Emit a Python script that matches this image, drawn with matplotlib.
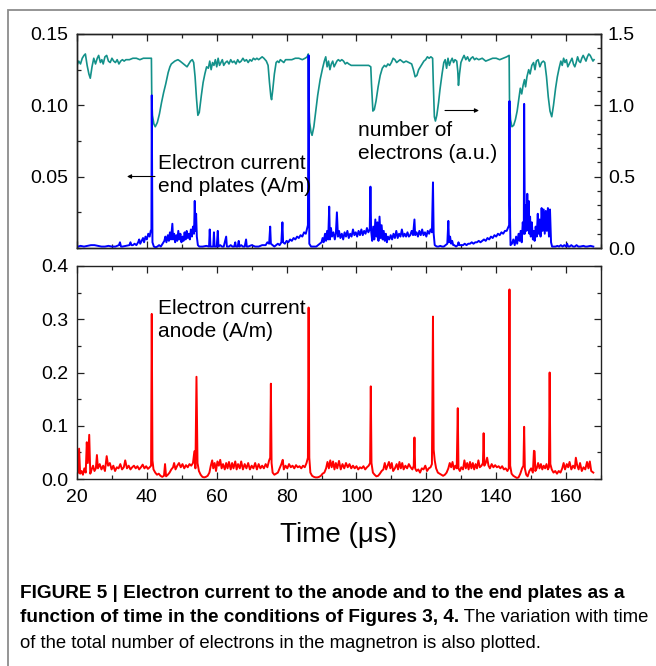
import numpy as np
import matplotlib
matplotlib.use("Agg")
import matplotlib.pyplot as plt
from matplotlib.ticker import MultipleLocator, FixedLocator
from matplotlib.patches import Rectangle

plt.rcParams["font.family"] = ["Liberation Sans", "DejaVu Sans"]

# electron current to the end plates (A/m): (time in us, current)
end_plates = np.array([
    (20.3, 0.001), (21, 0.0015), (22, 0.001), (23, 0.0015), (24, 0.002), (25, 0.002), (26, 0.0015),
    (27, 0.001), (28, 0.001), (29, 0.0015), (30, 0.001), (31, 0.001), (32, 0.002), (32.3, 0.004),
    (32.6, 0.001), (33, 0.001), (34, 0.0015), (35, 0.002), (35.3, 0.004), (35.6, 0.002), (36, 0.002),
    (36.5, 0.003), (37, 0.002), (37.5, 0.004), (37.8, 0.006), (38.1, 0.003), (38.5, 0.005), (38.9, 0.007),
    (39.2, 0.004), (39.6, 0.008), (40.0, 0.006), (40.4, 0.010), (40.8, 0.008), (41.1, 0.012), (41.3, 0.013),
    (41.4, 0.107), (41.5, 0.060), (41.6, 0.004), (42, 0.001), (42.5, 0.0005), (43, 0.001), (43.5, 0.002),
    (44, 0.001), (44.5, 0.003), (45, 0.005), (45.3, 0.008), (45.6, 0.004), (46, 0.009), (46.3, 0.005),
    (46.6, 0.011), (46.9, 0.006), (47.3, 0.017), (47.5, 0.006), (47.8, 0.010), (48.1, 0.004), (48.4, 0.009),
    (48.7, 0.005), (49.0, 0.012), (49.3, 0.006), (49.6, 0.010), (49.9, 0.004), (50.2, 0.008), (50.5, 0.005),
    (50.8, 0.011), (51.1, 0.006), (51.4, 0.012), (51.7, 0.007), (52.0, 0.010), (52.3, 0.006), (52.6, 0.013),
    (52.9, 0.008), (53.2, 0.015), (53.5, 0.010), (53.7, 0.033), (53.9, 0.012), (54.1, 0.024), (54.3, 0.008),
    (54.6, 0.002), (55, 0.001), (55.5, 0.001), (56, 0.001), (57, 0.0015), (57.8, 0.001), (58.0, 0.013),
    (58.2, 0.001), (59.0, 0.001), (59.2, 0.011), (59.4, 0.001), (60.0, 0.001), (60.3, 0.012), (60.5, 0.001),
    (61, 0.002), (61.5, 0.001), (62, 0.001), (62.7, 0.008), (62.9, 0.001), (63.5, 0.001), (64, 0.002),
    (64.5, 0.001), (65, 0.001), (65.3, 0.004), (65.5, 0.001), (66, 0.001), (66.3, 0.005), (66.5, 0.001),
    (67, 0.002), (67.5, 0.001), (68, 0.001), (68.4, 0.006), (68.6, 0.001), (69, 0.001), (70, 0.002),
    (71, 0.001), (72, 0.001), (73, 0.002), (74, 0.002), (74.5, 0.004), (75.0, 0.003), (75.3, 0.015),
    (75.5, 0.003), (76, 0.002), (76.5, 0.001), (77, 0.002), (77.5, 0.003), (78, 0.002), (78.5, 0.004),
    (78.8, 0.018), (79.0, 0.004), (79.5, 0.003), (80, 0.005), (80.5, 0.004), (81, 0.006), (81.5, 0.005),
    (82, 0.007), (82.5, 0.006), (83, 0.008), (83.5, 0.007), (84, 0.009), (84.5, 0.008), (85, 0.011),
    (85.5, 0.010), (85.9, 0.014), (86.1, 0.016), (86.3, 0.135), (86.4, 0.060), (86.5, 0.003), (87, 0.001),
    (87.5, 0.001), (88, 0.001), (88.5, 0.001), (89, 0.002), (89.5, 0.003), (90, 0.004), (90.3, 0.007),
    (90.6, 0.004), (91, 0.010), (91.3, 0.005), (91.6, 0.012), (91.9, 0.006), (92.2, 0.029), (92.4, 0.006),
    (92.7, 0.014), (93.0, 0.008), (93.4, 0.011), (93.8, 0.006), (94.1, 0.010), (94.4, 0.025), (94.7, 0.008),
    (95.0, 0.012), (95.4, 0.007), (95.8, 0.010), (96.2, 0.006), (96.6, 0.011), (97.0, 0.008), (97.4, 0.012),
    (97.8, 0.007), (98.2, 0.010), (98.6, 0.008), (99.0, 0.013), (99.4, 0.009), (99.8, 0.011), (100.2, 0.008),
    (100.6, 0.012), (101.0, 0.009), (101.4, 0.013), (101.8, 0.009), (102.2, 0.012), (102.6, 0.010),
    (103.0, 0.014), (103.4, 0.011), (103.8, 0.013), (104.0, 0.043), (104.2, 0.012), (104.5, 0.005),
    (104.8, 0.015), (105.1, 0.006), (105.4, 0.020), (105.7, 0.008), (106.0, 0.018), (106.3, 0.005),
    (106.6, 0.022), (106.9, 0.007), (107.2, 0.016), (107.5, 0.006), (107.8, 0.012), (108.1, 0.005),
    (108.4, 0.010), (108.7, 0.004), (109.0, 0.008), (109.4, 0.006), (109.8, 0.009), (110.2, 0.006),
    (110.6, 0.010), (111.0, 0.007), (111.4, 0.012), (111.8, 0.007), (112.2, 0.010), (112.6, 0.008),
    (113.0, 0.013), (113.4, 0.008), (113.8, 0.010), (114.2, 0.008), (114.6, 0.011), (115.0, 0.008),
    (115.4, 0.009), (115.8, 0.012), (116.2, 0.009), (116.6, 0.020), (116.8, 0.009), (117.2, 0.011),
    (117.6, 0.008), (118.0, 0.012), (118.4, 0.009), (118.8, 0.013), (119.2, 0.009), (119.6, 0.011),
    (120.0, 0.008), (120.4, 0.012), (120.8, 0.010), (121.2, 0.013), (121.6, 0.011), (121.9, 0.046),
    (122.1, 0.010), (122.4, 0.002), (123, 0.001), (123.5, 0.001), (124, 0.0015), (124.5, 0.001), (125, 0.001),
    (125.5, 0.002), (126.0, 0.003), (126.3, 0.019), (126.5, 0.004), (126.8, 0.008), (127.1, 0.003),
    (127.4, 0.005), (127.7, 0.002), (128, 0.002), (128.5, 0.001), (129, 0.002), (129.2, 0.004), (129.5, 0.002),
    (130, 0.002), (130.5, 0.002), (131, 0.003), (131.5, 0.002), (132, 0.003), (132.5, 0.003), (133, 0.004),
    (133.5, 0.003), (134, 0.004), (134.5, 0.004), (135, 0.005), (135.5, 0.004), (136, 0.005), (136.5, 0.006),
    (137, 0.005), (137.5, 0.007), (138, 0.006), (138.5, 0.008), (139, 0.007), (139.5, 0.009), (140, 0.008),
    (140.5, 0.010), (141, 0.009), (141.5, 0.011), (142, 0.010), (142.5, 0.012), (143, 0.012), (143.5, 0.015),
    (143.7, 0.016), (143.8, 0.103), (143.9, 0.030), (144.1, 0.002), (144.5, 0.003), (144.9, 0.006),
    (145.3, 0.002), (145.7, 0.008), (146.0, 0.003), (146.4, 0.010), (146.7, 0.005), (147.0, 0.012),
    (147.3, 0.004), (147.6, 0.018), (147.9, 0.010), (148.0, 0.101), (148.2, 0.010), (148.5, 0.030),
    (148.7, 0.012), (148.9, 0.038), (149.1, 0.015), (149.3, 0.033), (149.5, 0.010), (149.7, 0.022),
    (149.9, 0.008), (150.2, 0.018), (150.5, 0.006), (150.8, 0.012), (151.0, 0.005), (151.3, 0.015),
    (151.6, 0.008), (151.9, 0.024), (152.1, 0.010), (152.4, 0.020), (152.7, 0.008), (153.0, 0.028),
    (153.3, 0.012), (153.6, 0.027), (153.9, 0.010), (154.2, 0.026), (154.5, 0.012), (154.8, 0.028),
    (155.1, 0.008), (155.4, 0.027), (155.7, 0.004), (156.0, 0.001), (156.5, 0.001), (157, 0.001),
    (157.5, 0.0015), (158, 0.001), (158.5, 0.002), (159, 0.001), (159.5, 0.002), (160, 0.001), (160.3, 0.003),
    (160.6, 0.001), (161, 0.001), (161.5, 0.002), (162, 0.001), (162.5, 0.001), (163, 0.002), (163.5, 0.001),
    (164, 0.001), (165, 0.0015), (165.5, 0.001), (166, 0.001), (167, 0.0015), (167.8, 0.001),
])

# total number of electrons (a.u.): (time in us, value)
n_electrons = np.array([
    (20.0, 1.28), (20.5, 1.31), (21.0, 1.29), (21.5, 1.33), (22.0, 1.35), (22.4, 1.36), (22.9, 1.28),
    (23.4, 1.22), (23.8, 1.19), (24.3, 1.27), (24.8, 1.33), (25.3, 1.29), (25.8, 1.33), (26.2, 1.35),
    (26.7, 1.30), (27.1, 1.32), (27.5, 1.29), (28.0, 1.34), (28.5, 1.35), (29.0, 1.31), (29.5, 1.30),
    (30.0, 1.33), (30.5, 1.31), (31.0, 1.30), (31.5, 1.32), (32.0, 1.29), (32.5, 1.31), (33.0, 1.32),
    (33.5, 1.31), (34.0, 1.32), (35.0, 1.32), (36.0, 1.33), (37.0, 1.33), (38.0, 1.32), (39.0, 1.33),
    (40.0, 1.33), (41.3, 1.33), (41.4, 1.05), (41.6, 0.93), (42.0, 0.87), (42.4, 0.85), (43.0, 0.88),
    (43.6, 0.94), (44.2, 1.02), (44.8, 1.09), (45.4, 1.15), (46.1, 1.23), (46.6, 1.27), (47.0, 1.29),
    (47.5, 1.30), (48.0, 1.31), (48.9, 1.32), (49.5, 1.31), (50.0, 1.30), (50.5, 1.29), (51.0, 1.28),
    (51.5, 1.27), (52.0, 1.29), (52.5, 1.31), (53.0, 1.32), (53.4, 1.30), (53.8, 1.20), (54.2, 1.05),
    (54.6, 0.93), (55.0, 0.95), (55.6, 1.07), (56.1, 1.16), (56.6, 1.22), (57.1, 1.27), (57.6, 1.26),
    (58.0, 1.31), (58.4, 1.25), (58.8, 1.30), (59.2, 1.28), (59.6, 1.32), (60.0, 1.27), (60.4, 1.33),
    (60.8, 1.28), (61.2, 1.30), (61.6, 1.32), (62.0, 1.28), (62.5, 1.30), (63.0, 1.31), (63.5, 1.29),
    (64.0, 1.32), (64.5, 1.30), (65.0, 1.31), (65.5, 1.29), (66.0, 1.32), (66.5, 1.30), (67.0, 1.31),
    (67.5, 1.33), (68.0, 1.31), (68.5, 1.32), (69.0, 1.30), (69.5, 1.32), (70.0, 1.31), (70.5, 1.33),
    (71.0, 1.32), (71.5, 1.33), (72.0, 1.32), (72.5, 1.33), (73.0, 1.34), (73.5, 1.33), (74.2, 1.31),
    (74.7, 1.28), (75.1, 1.16), (75.5, 1.06), (75.7, 1.04), (76.0, 1.10), (76.5, 1.22), (77.0, 1.30),
    (77.4, 1.31), (77.8, 1.30), (78.2, 1.32), (78.7, 1.31), (79.2, 1.30), (79.7, 1.32), (80.5, 1.32),
    (81.5, 1.32), (82.5, 1.33), (83.5, 1.33), (84.5, 1.32), (85.3, 1.33), (85.9, 1.34), (86.2, 1.36),
    (86.3, 1.05), (86.6, 0.88), (87.0, 0.81), (87.3, 0.79), (87.8, 0.85), (88.3, 0.95), (88.9, 1.07),
    (89.6, 1.18), (90.3, 1.26), (90.8, 1.31), (91.2, 1.34), (91.6, 1.27), (92.0, 1.31), (92.4, 1.25),
    (92.8, 1.29), (93.2, 1.31), (93.6, 1.27), (94.0, 1.29), (94.4, 1.31), (94.8, 1.32), (95.3, 1.31),
    (95.8, 1.32), (96.3, 1.31), (96.8, 1.29), (97.3, 1.30), (97.8, 1.29), (98.5, 1.28), (99.5, 1.28),
    (100.5, 1.28), (101.5, 1.28), (102.5, 1.28), (103.5, 1.28), (104.1, 1.27), (104.3, 1.15), (104.7, 0.96),
    (105.1, 0.97), (105.6, 1.03), (106.2, 1.13), (106.8, 1.21), (107.4, 1.26), (108.0, 1.28), (108.5, 1.27),
    (109.0, 1.29), (109.5, 1.28), (110.0, 1.30), (110.5, 1.33), (111.0, 1.32), (111.5, 1.30), (112.0, 1.31),
    (112.5, 1.32), (113.0, 1.31), (113.5, 1.30), (114.2, 1.31), (115.0, 1.30), (115.8, 1.29), (116.3, 1.25),
    (116.8, 1.20), (117.3, 1.21), (117.8, 1.25), (118.3, 1.27), (118.8, 1.29), (119.3, 1.31), (119.8, 1.32),
    (120.3, 1.34), (120.8, 1.33), (121.3, 1.34), (121.8, 1.33), (122.0, 1.15), (122.3, 0.92), (122.6, 0.89),
    (123.0, 0.93), (123.5, 1.02), (123.9, 1.11), (124.5, 1.22), (125.0, 1.30), (125.4, 1.32), (125.8, 1.26),
    (126.2, 1.33), (126.6, 1.28), (127.0, 1.31), (127.4, 1.33), (127.8, 1.30), (128.2, 1.32), (128.7, 1.31),
    (129.0, 1.24), (129.2, 1.14), (129.5, 1.22), (129.9, 1.30), (130.4, 1.33), (130.8, 1.35), (131.3, 1.32),
    (131.8, 1.34), (132.3, 1.31), (132.8, 1.33), (133.3, 1.34), (133.8, 1.32), (134.3, 1.33), (135.0, 1.32),
    (136.0, 1.33), (137.0, 1.31), (138.0, 1.32), (139.0, 1.33), (140.0, 1.33), (141.0, 1.32), (142.0, 1.33),
    (143.0, 1.34), (143.7, 1.35), (143.8, 1.05), (144.1, 0.90), (144.5, 0.85), (145.0, 0.86), (145.5, 0.90),
    (146.0, 0.96), (146.5, 1.05), (146.9, 1.12), (147.3, 1.08), (147.7, 1.14), (148.1, 1.18), (148.4, 1.13),
    (148.8, 1.20), (149.3, 1.25), (149.7, 1.22), (150.2, 1.28), (150.7, 1.30), (151.1, 1.25), (151.5, 1.31),
    (152.0, 1.32), (152.5, 1.27), (153.0, 1.30), (153.5, 1.31), (153.9, 1.30), (154.4, 1.20), (154.9, 1.06),
    (155.4, 0.96), (155.9, 0.92), (156.4, 1.00), (157.0, 1.12), (157.5, 1.20), (158.0, 1.26), (158.5, 1.31),
    (158.9, 1.28), (159.3, 1.33), (159.7, 1.30), (160.1, 1.32), (160.5, 1.27), (160.9, 1.29), (161.3, 1.31),
    (161.7, 1.33), (162.1, 1.29), (162.5, 1.27), (162.9, 1.30), (163.3, 1.34), (163.7, 1.31), (164.1, 1.30),
    (164.5, 1.33), (164.9, 1.35), (165.3, 1.33), (165.7, 1.31), (166.1, 1.34), (166.5, 1.36), (166.9, 1.35),
    (167.3, 1.33), (167.7, 1.31), (168.0, 1.32),
])

# electron current to the anode (A/m): (time in us, current)
anode = np.array([
    (20.3, 0.012), (20.6, 0.057), (20.9, 0.010), (21.3, 0.015), (21.7, 0.008), (22.1, 0.020), (22.5, 0.012),
    (22.8, 0.069), (23.1, 0.030), (23.5, 0.083), (23.8, 0.010), (24.2, 0.018), (24.6, 0.025), (25.0, 0.015),
    (25.4, 0.020), (25.7, 0.045), (26.0, 0.020), (26.5, 0.028), (27.0, 0.018), (27.5, 0.025), (28.0, 0.015),
    (28.5, 0.043), (28.9, 0.025), (29.4, 0.030), (29.9, 0.018), (30.4, 0.025), (30.9, 0.015), (31.4, 0.022),
    (31.9, 0.020), (32.4, 0.028), (32.9, 0.018), (33.4, 0.022), (33.8, 0.035), (34.3, 0.020), (34.8, 0.025),
    (35.3, 0.018), (35.8, 0.022), (36.3, 0.025), (36.8, 0.020), (37.3, 0.024), (37.8, 0.018), (38.3, 0.022),
    (38.8, 0.027), (39.3, 0.020), (39.8, 0.024), (40.3, 0.019), (40.8, 0.022), (41.2, 0.025), (41.4, 0.310),
    (41.6, 0.035), (41.9, 0.018), (42.4, 0.012), (42.9, 0.008), (43.4, 0.010), (43.9, 0.006), (44.4, 0.004),
    (44.9, 0.006), (45.2, 0.028), (45.5, 0.005), (46.0, 0.008), (46.5, 0.012), (47.0, 0.018), (47.5, 0.022),
    (47.8, 0.030), (48.2, 0.018), (48.7, 0.025), (49.2, 0.030), (49.7, 0.022), (50.2, 0.028), (50.7, 0.020),
    (51.2, 0.026), (51.7, 0.022), (52.2, 0.028), (52.7, 0.025), (53.2, 0.030), (53.6, 0.052), (53.9, 0.020),
    (54.2, 0.192), (54.5, 0.030), (54.9, 0.015), (55.4, 0.008), (55.9, 0.004), (56.4, 0.003), (56.9, 0.004),
    (57.4, 0.006), (57.9, 0.012), (58.3, 0.025), (58.7, 0.035), (59.0, 0.020), (59.4, 0.030), (59.8, 0.015),
    (60.2, 0.033), (60.6, 0.025), (61.0, 0.036), (61.4, 0.020), (61.8, 0.028), (62.3, 0.018), (62.7, 0.030),
    (63.1, 0.020), (63.5, 0.032), (64.0, 0.018), (64.4, 0.030), (64.8, 0.020), (65.3, 0.033), (65.7, 0.018),
    (66.1, 0.028), (66.6, 0.020), (67.0, 0.033), (67.5, 0.018), (68.0, 0.028), (68.5, 0.020), (69.0, 0.030),
    (69.5, 0.018), (70.0, 0.025), (70.5, 0.020), (71.0, 0.030), (71.5, 0.018), (72.0, 0.028), (72.5, 0.020),
    (73.0, 0.025), (73.5, 0.020), (74.0, 0.028), (74.5, 0.022), (75.0, 0.035), (75.3, 0.040), (75.5, 0.179),
    (75.7, 0.030), (76.0, 0.012), (76.5, 0.008), (77.0, 0.010), (77.5, 0.012), (78.0, 0.020), (78.5, 0.028),
    (78.9, 0.036), (79.2, 0.018), (79.7, 0.025), (80.2, 0.020), (80.7, 0.028), (81.2, 0.022), (81.7, 0.025),
    (82.2, 0.020), (82.7, 0.026), (83.2, 0.022), (83.7, 0.024), (84.2, 0.020), (84.7, 0.025), (85.2, 0.022),
    (85.7, 0.030), (86.1, 0.040), (86.3, 0.322), (86.5, 0.040), (86.8, 0.012), (87.3, 0.006), (87.8, 0.004),
    (88.3, 0.003), (88.8, 0.003), (89.3, 0.004), (89.8, 0.006), (90.3, 0.010), (90.8, 0.012), (91.3, 0.020),
    (91.7, 0.032), (92.1, 0.020), (92.5, 0.035), (92.9, 0.022), (93.3, 0.033), (93.7, 0.018), (94.1, 0.030),
    (94.5, 0.020), (95.0, 0.034), (95.5, 0.018), (96.0, 0.028), (96.5, 0.020), (97.0, 0.030), (97.5, 0.022),
    (98.0, 0.028), (98.5, 0.020), (99.0, 0.025), (99.5, 0.020), (100.0, 0.024), (100.5, 0.018), (101.0, 0.022),
    (101.5, 0.020), (102.0, 0.024), (102.5, 0.018), (103.0, 0.022), (103.5, 0.025), (103.9, 0.030),
    (104.1, 0.174), (104.3, 0.030), (104.7, 0.012), (105.2, 0.008), (105.7, 0.005), (106.2, 0.006),
    (106.7, 0.010), (107.2, 0.015), (107.7, 0.018), (108.1, 0.030), (108.5, 0.018), (108.9, 0.025),
    (109.3, 0.032), (109.7, 0.020), (110.1, 0.030), (110.5, 0.015), (111.0, 0.020), (111.5, 0.028),
    (111.9, 0.018), (112.3, 0.032), (112.7, 0.020), (113.1, 0.030), (113.5, 0.018), (114.0, 0.025),
    (114.5, 0.020), (115.0, 0.028), (115.5, 0.022), (116.0, 0.018), (116.4, 0.025), (116.6, 0.078),
    (116.8, 0.020), (117.2, 0.015), (117.7, 0.018), (118.2, 0.012), (118.7, 0.020), (119.2, 0.018),
    (119.7, 0.025), (120.2, 0.015), (120.7, 0.020), (121.2, 0.022), (121.6, 0.028), (121.9, 0.305),
    (122.1, 0.055), (122.4, 0.035), (122.8, 0.020), (123.3, 0.012), (123.8, 0.010), (124.3, 0.008),
    (124.8, 0.006), (125.3, 0.008), (125.8, 0.012), (126.3, 0.020), (126.7, 0.030), (127.1, 0.022),
    (127.5, 0.032), (127.9, 0.018), (128.3, 0.025), (128.7, 0.020), (129.0, 0.133), (129.2, 0.020),
    (129.6, 0.015), (130.0, 0.022), (130.5, 0.018), (130.9, 0.035), (131.3, 0.020), (131.7, 0.030),
    (132.1, 0.018), (132.5, 0.032), (132.9, 0.020), (133.3, 0.030), (133.7, 0.018), (134.1, 0.028),
    (134.5, 0.020), (134.9, 0.035), (135.3, 0.022), (135.8, 0.025), (136.2, 0.030), (136.4, 0.086),
    (136.6, 0.025), (137.0, 0.030), (137.4, 0.040), (137.8, 0.025), (138.2, 0.020), (138.7, 0.028),
    (139.2, 0.022), (139.7, 0.026), (140.2, 0.022), (140.7, 0.024), (141.2, 0.020), (141.7, 0.024),
    (142.2, 0.018), (142.7, 0.020), (143.2, 0.015), (143.6, 0.020), (143.8, 0.356), (144.0, 0.025),
    (144.4, 0.010), (144.9, 0.006), (145.4, 0.004), (145.9, 0.002), (146.4, 0.003), (146.9, 0.010),
    (147.4, 0.020), (147.8, 0.025), (148.0, 0.098), (148.2, 0.020), (148.6, 0.008), (149.0, 0.005),
    (149.5, 0.015), (150.0, 0.020), (150.5, 0.012), (150.8, 0.053), (151.0, 0.052), (151.2, 0.015),
    (151.6, 0.020), (152.0, 0.030), (152.4, 0.020), (152.8, 0.028), (153.2, 0.018), (153.6, 0.025),
    (154.0, 0.020), (154.4, 0.028), (154.8, 0.018), (155.1, 0.022), (155.3, 0.200), (155.5, 0.028),
    (155.9, 0.018), (156.4, 0.012), (156.9, 0.015), (157.4, 0.010), (157.9, 0.015), (158.4, 0.012),
    (158.9, 0.020), (159.3, 0.030), (159.7, 0.018), (160.2, 0.028), (160.6, 0.022), (161.0, 0.032),
    (161.5, 0.018), (162.0, 0.025), (162.5, 0.020), (162.8, 0.040), (163.2, 0.025), (163.6, 0.018),
    (164.0, 0.030), (164.5, 0.015), (165.0, 0.022), (165.5, 0.018), (166.0, 0.032), (166.4, 0.020),
    (166.8, 0.033), (167.2, 0.015), (167.8, 0.012),
])

top_left_ticks = [0.05, 0.10, 0.15]
top_right_ticks = [0.0, 0.5, 1.0, 1.5]
bottom_ticks = [0.0, 0.1, 0.2, 0.3, 0.4]
time_ticks = [20, 40, 60, 80, 100, 120, 140, 160]

caption_1 = "FIGURE 5 | Electron current to the anode and to the end plates as a"
caption_2b = "function of time in the conditions of Figures 3, 4."
caption_2r = " The variation with time"
caption_3 = "of the total number of electrons in the magnetron is also plotted."

W, H = 656, 666
fig = plt.figure(figsize=(W / 100, H / 100), dpi=100)


def fx(px):
    return px / W


def fy(py):
    return 1 - py / H


def style_axis(ax, size=14):
    for s in ax.spines.values():
        s.set_linewidth(1.0)
        s.set_color("#222222")
    ax.tick_params(which="both", direction="in", labelsize=size, width=0.9, color="#222222")
    ax.tick_params(which="major", length=5)
    ax.tick_params(which="minor", length=3)


def arrow(x_from, x_to, y):
    # thin horizontal pointer, given in pixels from the top-left corner
    ax_top.annotate("", xy=(fx(x_to), fy(y)), xytext=(fx(x_from), fy(y)),
                    xycoords="figure fraction", textcoords="figure fraction",
                    arrowprops=dict(arrowstyle="-|>", color="black", lw=0.8,
                                    mutation_scale=6, shrinkA=0, shrinkB=0))


left, right = 77, 601
ax_top = fig.add_axes([fx(left), fy(248), fx(right - left), (248 - 34) / H])
ax_bot = fig.add_axes([fx(left), fy(479), fx(right - left), (479 - 266) / H])

# top panel: end-plate current (left) and number of electrons (right)
ax_ne = ax_top.twinx()
ax_ne.plot(n_electrons[:, 0], n_electrons[:, 1], color="#13918a", lw=1.2)
ax_top.plot(end_plates[:, 0], end_plates[:, 1], color="#0000ff", lw=1.4)
ax_top.set_zorder(ax_ne.get_zorder() + 1)
ax_top.patch.set_visible(False)

ax_top.set_xlim(20, 170)
ax_top.set_ylim(0, 0.15)
ax_ne.set_ylim(0, 1.5)
ax_top.xaxis.set_major_locator(MultipleLocator(20))
ax_top.xaxis.set_minor_locator(MultipleLocator(10))
ax_top.tick_params(axis="x", which="both", top=True, labelbottom=False)
ax_top.yaxis.set_major_locator(FixedLocator(top_left_ticks))
ax_top.yaxis.set_minor_locator(MultipleLocator(0.025))
ax_top.set_yticklabels([f"{v:.2f}" for v in top_left_ticks])
ax_ne.yaxis.set_major_locator(FixedLocator(top_right_ticks))
ax_ne.yaxis.set_minor_locator(MultipleLocator(0.1))
ax_ne.set_yticklabels([f"{v:.1f}" for v in top_right_ticks])
style_axis(ax_top)
style_axis(ax_ne)
ax_top.tick_params(axis="y", pad=6)
ax_ne.tick_params(axis="y", pad=5)

note_size = 15
fig.text(fx(158), fy(154), "Electron current\nend plates (A/m)", fontsize=note_size,
         va="top", ha="left", linespacing=1.25)
arrow(155, 127, 176.5)
fig.text(fx(358), fy(121), "number of\nelectrons (a.u.)", fontsize=note_size,
         va="top", ha="left", linespacing=1.25)
arrow(445, 479, 110.5)

# bottom panel: anode current
ax_bot.plot(anode[:, 0], anode[:, 1], color="#ff0000", lw=1.4)
ax_bot.set_xlim(20, 170)
ax_bot.set_ylim(0, 0.4)
ax_bot.xaxis.set_major_locator(FixedLocator(time_ticks))
ax_bot.xaxis.set_minor_locator(MultipleLocator(10))
ax_bot.yaxis.set_major_locator(FixedLocator(bottom_ticks))
ax_bot.yaxis.set_minor_locator(MultipleLocator(0.05))
ax_bot.set_yticklabels([f"{v:.1f}" for v in bottom_ticks])
style_axis(ax_bot)
ax_bot.tick_params(which="both", top=True, right=True)
ax_bot.tick_params(axis="y", pad=6)
ax_bot.tick_params(axis="x", pad=7)
ax_bot.set_xlabel("Time (\u03bcs)", fontsize=20, labelpad=12)
fig.text(fx(158), fy(299), "Electron current\nanode (A/m)", fontsize=note_size,
         va="top", ha="left", linespacing=1.25)

# outer frame
fig.add_artist(Rectangle((fx(7.5), -0.05), 1.2, fy(9.5) + 0.05, transform=fig.transFigure,
                         fill=False, edgecolor="#8c8c8c", lw=1.3))

# caption: size chosen so the first line runs to the right margin
renderer = fig.canvas.get_renderer()
x0 = fx(20)
probe = fig.text(x0, fy(593), caption_1, weight="bold", fontsize=10, va="center")
cap_size = 10 * 608 / probe.get_window_extent(renderer=renderer).width
probe.set_fontsize(cap_size)
reg_size = cap_size * 0.97
t2 = fig.text(x0, fy(618), caption_2b, weight="bold", fontsize=cap_size, va="center")
bb = t2.get_window_extent(renderer=renderer)
fig.text(bb.x1 / W, fy(618), caption_2r, fontsize=reg_size, va="center")
fig.text(x0, fy(643), caption_3, fontsize=reg_size, va="center")

fig.savefig("out.png", dpi=100)
